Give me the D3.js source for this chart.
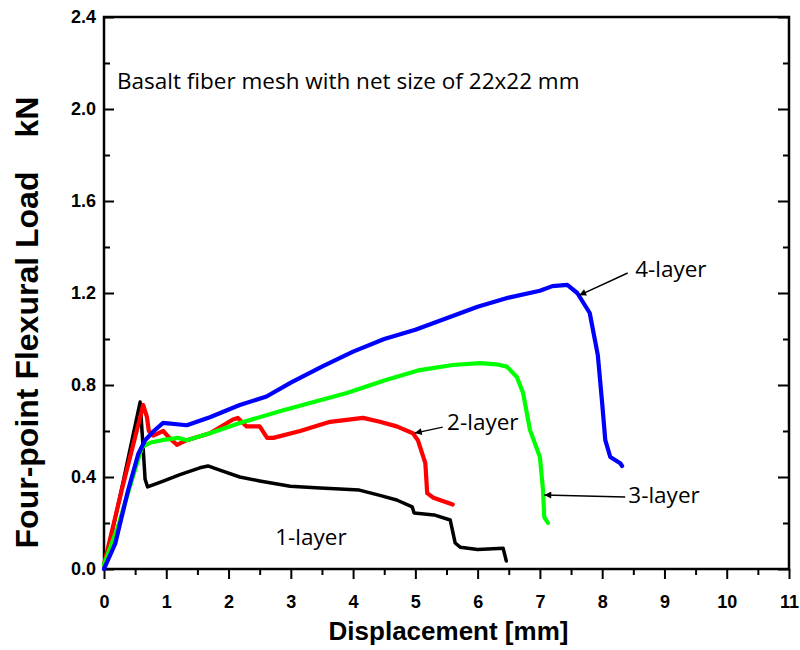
<!DOCTYPE html>
<html>
<head>
<meta charset="utf-8">
<script src="https://cdn.jsdelivr.net/npm/d3@7"></script>
<style>
  html, body { margin: 0; padding: 0; background: #fff; }
  svg { display: block; }
</style>
</head>
<body>
<svg id="chart" width="800" height="650"></svg>
<script>
// ---------------- data ----------------
const xTicks = [0, 1, 2, 3, 4, 5, 6, 7, 8, 9, 10, 11];
const yTicks = [0.0, 0.4, 0.8, 1.2, 1.6, 2.0, 2.4];

const layer1X = [0, 0.3, 0.58, 0.63, 0.66, 0.7, 0.93, 1.22, 1.54, 1.67, 1.86, 2.18, 2.5, 2.99, 3.47, 3.79, 4.1, 4.43, 4.7, 4.95, 4.98, 5.3, 5.56, 5.64, 5.72, 6.0, 6.41, 6.46];
const layer1Y = [0, 0.37, 0.726, 0.52, 0.39, 0.357, 0.38, 0.41, 0.44, 0.448, 0.43, 0.40, 0.383, 0.36, 0.352, 0.348, 0.343, 0.32, 0.30, 0.27, 0.243, 0.235, 0.213, 0.113, 0.095, 0.085, 0.09, 0.035];

const layer2X = [0, 0.3, 0.63, 0.69, 0.72, 0.79, 0.95, 1.05, 1.17, 1.33, 1.7, 2.07, 2.15, 2.29, 2.5, 2.62, 2.72, 3.15, 3.63, 4.16, 4.43, 4.7, 4.96, 5.04, 5.16, 5.19, 5.29, 5.6];
const layer2Y = [0.02, 0.36, 0.713, 0.66, 0.6, 0.58, 0.60, 0.57, 0.54, 0.56, 0.59, 0.65, 0.657, 0.62, 0.62, 0.57, 0.57, 0.60, 0.64, 0.657, 0.64, 0.62, 0.59, 0.56, 0.46, 0.33, 0.31, 0.28];

const layer3X = [0, 0.22, 0.45, 0.61, 0.75, 0.93, 1.19, 1.33, 1.7, 2.18, 2.88, 3.9, 4.5, 5.07, 5.6, 6.04, 6.3, 6.47, 6.63, 6.73, 6.84, 7.0, 7.05, 7.07, 7.13];
const layer3Y = [0.02, 0.18, 0.39, 0.53, 0.55, 0.56, 0.57, 0.56, 0.59, 0.635, 0.69, 0.765, 0.82, 0.865, 0.887, 0.895, 0.89, 0.88, 0.835, 0.765, 0.605, 0.487, 0.343, 0.226, 0.2];

const layer4X = [0, 0.18, 0.385, 0.55, 0.66, 0.8, 0.95, 1.33, 1.7, 2.18, 2.61, 3.0, 3.5, 4.0, 4.5, 5.0, 5.5, 6.0, 6.5, 7.0, 7.2, 7.44, 7.6, 7.8, 7.93, 8.0, 8.05, 8.13, 8.29, 8.32];
const layer4Y = [0, 0.11, 0.34, 0.50, 0.56, 0.60, 0.635, 0.625, 0.66, 0.713, 0.75, 0.81, 0.88, 0.945, 1.0, 1.04, 1.09, 1.14, 1.18, 1.21, 1.23, 1.235, 1.2, 1.113, 0.93, 0.72, 0.56, 0.487, 0.46, 0.448];

const seriesNames = ["1-layer", "2-layer", "3-layer", "4-layer"];
const seriesColors = ["#000000", "#ff0000", "#00ff00", "#0000ff"];

// annotation labels: [text, textX, textY, arrowFromX, arrowFromY, arrowToX, arrowToY] (data units)
const annotations = [
  ["4-layer", 8.53, 1.27, 8.41, 1.287, 7.63, 1.19],
  ["2-layer", 5.51, 0.604, 5.44, 0.617, 4.99, 0.591],
  ["3-layer", 8.42, 0.287, 8.37, 0.313, 7.07, 0.322],
  ["1-layer", 2.75, 0.104, null, null, null, null]
];
const titleText = "Basalt fiber mesh with net size of 22x22 mm";

// ---------------- layout ----------------
const svg = d3.select("#chart");
const mLeft = 104, mRight = 789, mTop = 17, mBottom = 569;

const x = d3.scaleLinear().domain([0, 11]).range([mLeft, mRight]);
const y = d3.scaleLinear().domain([0, 2.4]).range([mBottom, mTop]);

const tickFont = "'Liberation Sans', Arial, sans-serif";

// bottom axis (ticks outward)
const xMinor = d3.range(0.5, 11, 1);
const gx = svg.append("g").attr("transform", `translate(0,${mBottom})`);
gx.call(d3.axisBottom(x).tickValues(xTicks).tickSize(10).tickPadding(16).tickFormat(d3.format("d")));
gx.selectAll(".domain").remove();
gx.selectAll(".tick line").attr("stroke", "#000").attr("stroke-width", 2);
gx.selectAll(".tick text").attr("font-family", tickFont).attr("font-weight", "bold").attr("font-size", 18).attr("fill", "#000");
svg.append("g").attr("transform", `translate(0,${mBottom})`)
  .call(d3.axisBottom(x).tickValues(xMinor).tickSize(6).tickFormat(""))
  .call(g => g.select(".domain").remove())
  .selectAll(".tick line").attr("stroke", "#000").attr("stroke-width", 2);

// left axis (ticks inward)
const yMinor = d3.range(0.2, 2.4, 0.4);
const gy = svg.append("g").attr("transform", `translate(${mLeft},0)`);
gy.call(d3.axisLeft(y).tickValues(yTicks).tickSize(-10).tickPadding(8).tickFormat(d3.format(".1f")));
gy.selectAll(".domain").remove();
gy.selectAll(".tick line").attr("stroke", "#000").attr("stroke-width", 2);
gy.selectAll(".tick text").attr("font-family", tickFont).attr("font-weight", "bold").attr("font-size", 18).attr("fill", "#000").attr("x", -8);
svg.append("g").attr("transform", `translate(${mLeft},0)`)
  .call(d3.axisLeft(y).tickValues(yMinor).tickSize(-6).tickFormat(""))
  .call(g => g.select(".domain").remove())
  .selectAll(".tick line").attr("stroke", "#000").attr("stroke-width", 2);

// right axis (ticks inward)
svg.append("g").attr("transform", `translate(${mRight},0)`)
  .call(d3.axisRight(y).tickValues(yTicks).tickSize(-11).tickFormat(""))
  .call(g => g.select(".domain").remove())
  .selectAll(".tick line").attr("stroke", "#000").attr("stroke-width", 2);
svg.append("g").attr("transform", `translate(${mRight},0)`)
  .call(d3.axisRight(y).tickValues(yMinor).tickSize(-6).tickFormat(""))
  .call(g => g.select(".domain").remove())
  .selectAll(".tick line").attr("stroke", "#000").attr("stroke-width", 2);

// frame
svg.append("rect").attr("x", mLeft).attr("y", mTop).attr("width", mRight - mLeft).attr("height", mBottom - mTop)
  .attr("fill", "none").attr("stroke", "#000").attr("stroke-width", 2.5);

// curves
const allX = [layer1X, layer2X, layer3X, layer4X];
const allY = [layer1Y, layer2Y, layer3Y, layer4Y];
const line = d3.line().x(d => x(d[0])).y(d => y(d[1])).curve(d3.curveLinear);
allX.forEach((xs, i) => {
  const pts = xs.map((v, j) => [v, allY[i][j]]);
  svg.append("path").datum(pts)
    .attr("d", line)
    .attr("fill", "none")
    .attr("stroke", seriesColors[i])
    .attr("stroke-width", i === 0 ? 3.5 : 4.2)
    .attr("stroke-linejoin", "round")
    .attr("stroke-linecap", "round");
});

// arrow marker
svg.append("defs").append("marker")
  .attr("id", "arrow").attr("viewBox", "0 0 10 10").attr("refX", 10).attr("refY", 5)
  .attr("markerWidth", 10).attr("markerHeight", 7).attr("markerUnits", "userSpaceOnUse")
  .attr("orient", "auto")
  .append("path").attr("d", "M0,0 L10,5 L0,10 z").attr("fill", "#000");

const annoFont = "'Open Sans', 'Noto Sans', sans-serif";
annotations.forEach(a => {
  svg.append("text").attr("x", x(a[1])).attr("y", y(a[2]))
    .attr("font-family", annoFont).attr("font-size", 22.5).attr("fill", "#000").text(a[0]);
  if (a[3] !== null) {
    svg.append("line")
      .attr("x1", x(a[3])).attr("y1", y(a[4]))
      .attr("x2", x(a[5])).attr("y2", y(a[6]))
      .attr("stroke", "#000").attr("stroke-width", 1.4)
      .attr("marker-end", "url(#arrow)");
  }
});

svg.append("text").attr("x", 117).attr("y", 89)
  .attr("font-family", annoFont).attr("font-size", 22.5).attr("fill", "#000").text(titleText);

// axis titles
svg.append("text").attr("x", (mLeft + mRight) / 2 + 2).attr("y", 640)
  .attr("text-anchor", "middle").attr("font-family", tickFont).attr("font-weight", "bold")
  .attr("font-size", 26).attr("fill", "#000").text("Displacement [mm]");

svg.append("text").attr("transform", "translate(38,360) rotate(-90)")
  .attr("text-anchor", "middle").attr("font-family", tickFont).attr("font-weight", "bold")
  .attr("font-size", 32).attr("fill", "#000")
  .text("Four-point Flexural Load");
svg.append("text").attr("transform", "translate(38,117) rotate(-90)")
  .attr("text-anchor", "middle").attr("font-family", tickFont).attr("font-weight", "bold")
  .attr("font-size", 32).attr("fill", "#000")
  .text("kN");
</script>
</body>
</html>
